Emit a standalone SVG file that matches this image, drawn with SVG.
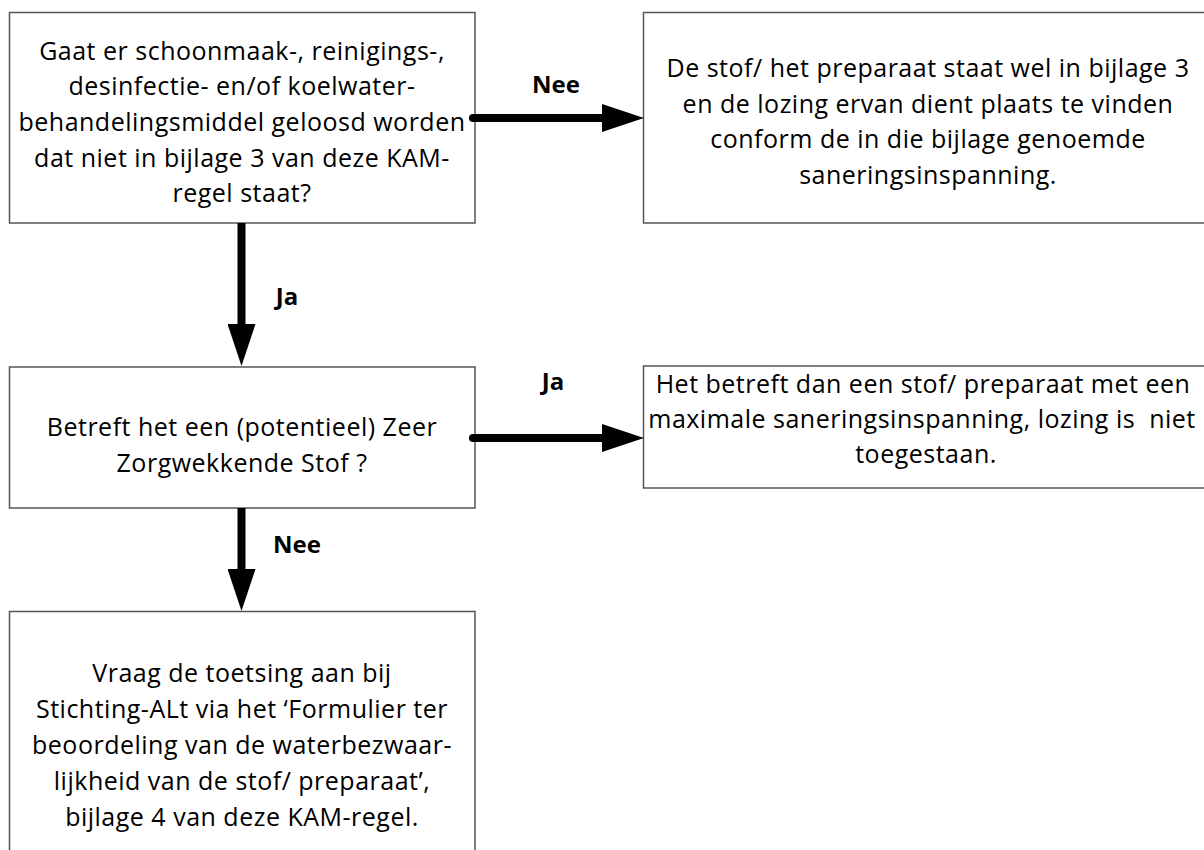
<svg xmlns="http://www.w3.org/2000/svg" width="1204" height="850" viewBox="0 0 1204 850">
  <style>
    .box { fill: #ffffff; stroke: #555555; stroke-width: 1.5; }
    .t { font-family: "Open Sans", Lato, "Liberation Sans", sans-serif; font-size: 25px; letter-spacing: 0.5px; fill: #000000; text-anchor: middle; }
    .lbl { font-family: "Open Sans", Lato, "Liberation Sans", sans-serif; font-size: 24px; font-weight: bold; fill: #000000; text-anchor: middle; }
    .conn { fill: none; stroke: #000000; stroke-width: 8; stroke-linecap: round; }
    .connv { fill: none; stroke: #000000; stroke-width: 8; stroke-linecap: butt; }
  </style>
  <defs>
    <marker id="ah" markerUnits="userSpaceOnUse" markerWidth="42" markerHeight="28" refX="0" refY="14" orient="auto">
      <path d="M0,0 L42,14 L0,28 Z" fill="#000000"/>
    </marker>
  </defs>
  <rect width="1204" height="850" fill="#ffffff"/>

  <g id="node-q1">
    <rect class="box" x="9.5" y="12.5" width="465.5" height="210.5"/>
    <text class="t" x="242" y="59.5">Gaat er schoonmaak-, reinigings-,</text>
    <text class="t" x="242" y="95">desinfectie- en/of koelwater-</text>
    <text class="t" x="242" y="131">behandelingsmiddel geloosd worden</text>
    <text class="t" x="242" y="166.5">dat niet in bijlage 3 van deze KAM-</text>
    <text class="t" x="242" y="202">regel staat?</text>
  </g>

  <g id="node-wel-bijlage3">
    <rect class="box" x="643.5" y="12.5" width="570" height="210.5"/>
    <text class="t" x="928" y="77">De stof/ het preparaat staat wel in bijlage 3</text>
    <text class="t" x="928" y="112.5">en de lozing ervan dient plaats te vinden</text>
    <text class="t" x="928" y="148">conform de in die bijlage genoemde</text>
    <text class="t" x="928" y="183.5">saneringsinspanning.</text>
  </g>

  <g id="node-q2">
    <rect class="box" x="9.5" y="367" width="465.5" height="141"/>
    <text class="t" x="242" y="436">Betreft het een (potentieel) Zeer</text>
    <text class="t" x="242" y="472">Zorgwekkende Stof ?</text>
  </g>

  <g id="node-niet-toegestaan">
    <rect class="box" x="643.5" y="366" width="570" height="122"/>
    <text class="t" x="923" y="393">Het betreft dan een stof/ preparaat met een</text>
    <text class="t" x="922" y="428" xml:space="preserve">maximale saneringsinspanning, lozing is  niet</text>
    <text class="t" x="926" y="463">toegestaan.</text>
  </g>

  <g id="node-toetsing">
    <rect class="box" x="9.5" y="611.5" width="465.5" height="260"/>
    <text class="t" x="242" y="682">Vraag de toetsing aan bij</text>
    <text class="t" x="242" y="718">Stichting-ALt via het ‘Formulier ter</text>
    <text class="t" x="242" y="754">beoordeling van de waterbezwaar-</text>
    <text class="t" x="242" y="790">lijkheid van de stof/ preparaat’,</text>
    <text class="t" x="242" y="826">bijlage 4 van deze KAM-regel.</text>
  </g>

  <g id="connectors">
    <path class="conn" d="M473,118 L602,118" marker-end="url(#ah)"/>
    <text class="lbl" x="556" y="93">Nee</text>
    <path class="connv" d="M241.5,223 L241.5,324" marker-end="url(#ah)"/>
    <text class="lbl" x="287" y="305">Ja</text>
    <path class="conn" d="M473,438 L602,438" marker-end="url(#ah)"/>
    <text class="lbl" x="553" y="390">Ja</text>
    <path class="connv" d="M241.5,508 L241.5,569" marker-end="url(#ah)"/>
    <text class="lbl" x="297" y="553">Nee</text>
  </g>
</svg>
